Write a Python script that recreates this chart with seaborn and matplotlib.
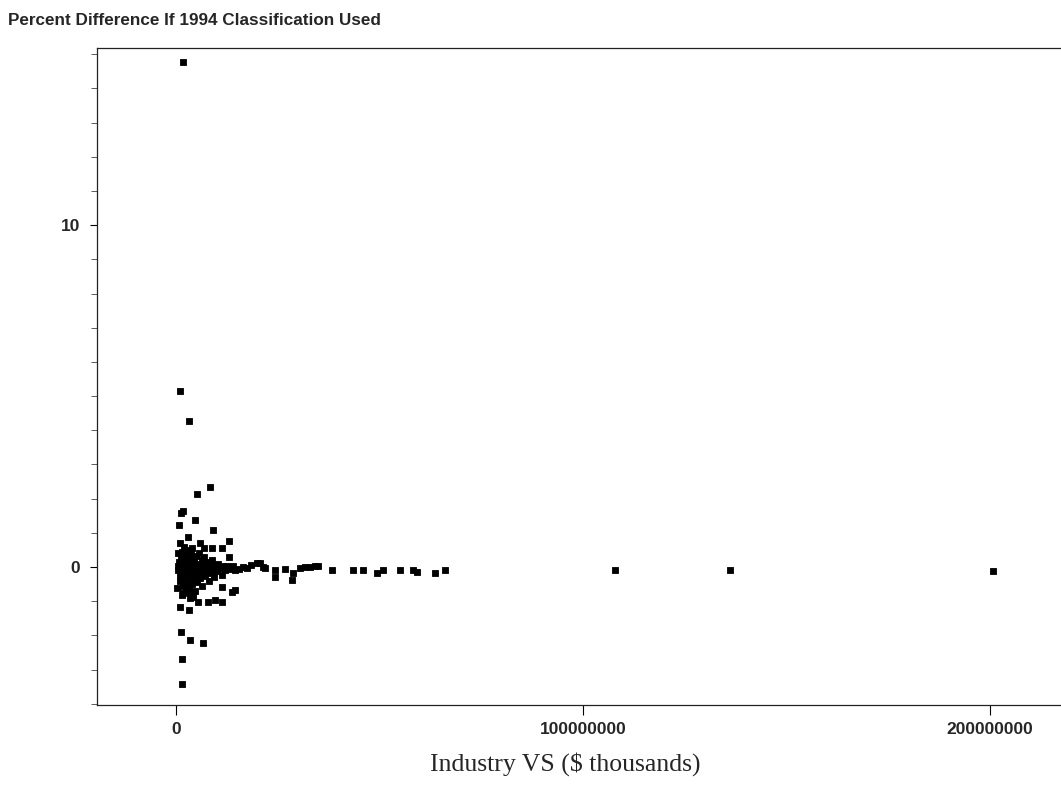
import matplotlib
matplotlib.use("Agg")
import matplotlib.pyplot as plt
import seaborn as sns
import pandas as pd
import numpy as np

# Industry VS in millions of $ thousands (scaled by 1e6 below), percent difference
outlier_vs = [1.7, 1.0, 3.2, 8.3, 5.2, 1.7, 1.2, 0.8, 4.7, 9.1, 2.9, 13.1,
              4.0, 7.0, 8.9, 11.3, 13.0]
outlier_pct = [14.77, 5.15, 4.27, 2.34, 2.13, 1.65, 1.57, 1.23, 1.37, 1.08, 0.88, 0.76,
               0.55, 0.55, 0.57, 0.57, 0.29]

tail_vs = [14.0, 14.5, 15.5, 16.5, 17.5, 18.5, 19.9, 20.6, 21.4, 21.9, 24.3, 24.3,
           26.8, 28.5, 28.7, 30.5, 31.7, 32.9, 34.2, 34.9, 38.3, 43.5, 45.9, 49.4,
           50.9, 55.0, 58.2, 59.2, 63.6, 66.1, 107.9, 136.1, 200.7]
tail_pct = [0.02, -0.10, -0.05, 0.00, -0.03, 0.05, 0.12, 0.12, 0.00, -0.03, -0.09, -0.29,
            -0.06, -0.38, -0.18, -0.03, 0.00, -0.01, 0.03, 0.02, -0.09, -0.09, -0.09, -0.18,
            -0.09, -0.09, -0.09, -0.15, -0.18, -0.09, -0.09, -0.09, -0.12]

low_vs = [14.5, 13.8, 11.3, 11.3, 9.6, 7.9, 5.4, 3.4, 4.1, 1.5, 1.7, 1.0,
          3.2, 1.2, 3.4, 6.6, 1.5, 1.5]
low_pct = [-0.67, -0.73, -0.58, -1.02, -0.96, -1.02, -1.02, -0.91, -0.88, -0.82, -0.76, -1.17,
           -1.26, -1.90, -2.13, -2.22, -2.69, -3.42]

core_vs = [0.4, 0.6, 0.7, 0.9, 1.0, 1.1, 1.2, 1.3, 1.4, 1.5,
           1.6, 1.7, 1.8, 1.9, 2.0, 2.1, 2.2, 2.3, 2.4, 2.5,
           2.6, 2.7, 2.8, 2.9, 3.0, 3.1, 3.2, 3.3, 3.4, 3.5,
           3.6, 3.7, 3.8, 3.9, 4.0, 4.1, 4.2, 4.3, 4.5, 4.6,
           4.7, 4.9, 5.0, 5.1, 5.3, 5.5, 5.6, 5.8, 6.0, 6.1,
           6.3, 6.5, 6.7, 6.9, 7.1, 7.3, 7.6, 7.8, 8.0, 8.3,
           8.5, 8.8, 9.0, 9.3, 9.6, 10.0, 10.4, 10.8, 11.2, 11.6,
           12.0, 12.5, 13.0, 13.5, 2.0, 1.0, 6.0, 3.5, 2.5, 0.3, 0.6]
core_pct = [0.02, -0.10, 0.15, -0.25, 0.05, -0.40, 0.30, -0.05, 0.10, -0.20,
            0.45, -0.55, 0.00, 0.22, -0.12, -0.35, 0.08, 0.35, -0.28, 0.02,
            -0.45, 0.18, -0.08, 0.50, -0.18, 0.05, -0.60, 0.28, -0.02, -0.38,
            0.12, 0.40, -0.15, -0.50, 0.06, 0.25, -0.30, -0.06, 0.16, -0.70,
            0.00, 0.33, -0.22, -0.45, 0.10, -0.05, 0.42, -0.32, 0.04, -0.15,
            0.20, -0.55, -0.02, 0.30, -0.25, 0.08, -0.10, 0.15, -0.40, 0.00,
            -0.18, 0.22, -0.05, -0.30, 0.05, -0.12, 0.10, -0.02, -0.22, 0.03,
            -0.08, 0.02, -0.05, 0.00, 0.60, 0.70, 0.70, -0.75, -0.70, -0.60, 0.40]

df = pd.DataFrame({
    "vs": np.array(outlier_vs + tail_vs + low_vs + core_vs) * 1e6,
    "pct": outlier_pct + tail_pct + low_pct + core_pct,
})

sns.set_theme(style="ticks")
plt.rcParams["font.family"] = ["Liberation Sans", "DejaVu Sans"]

fig = plt.figure(figsize=(10.61, 7.9), dpi=100)
ax = fig.add_axes([0.0914, 0.1076, 0.9086, 0.8315])

sns.scatterplot(data=df, x="vs", y="pct", ax=ax, marker="s", s=15,
                color="black", edgecolor="black", linewidth=0.6)

ax.set_xlim(-19.4e6, 217.4e6)
ax.set_ylim(-4.035, 15.18)
ax.set_xticks([0, 100000000, 200000000])
ax.set_xticklabels(["0", "100000000", "200000000"])
ax.set_yticks([0, 10])
ax.set_yticks(range(-4, 16), minor=True)
ax.tick_params(axis="x", which="major", length=7, width=0.8, color="black",
               labelsize=12.5, pad=5)
ax.tick_params(axis="y", which="major", length=5, width=0.8, color="black",
               labelsize=12.5, pad=7)
ax.tick_params(axis="y", which="minor", length=4, width=0.6, color="#444444")
for lbl in ax.get_xticklabels() + ax.get_yticklabels():
    lbl.set_fontweight("bold")

for side in ["left", "bottom", "top"]:
    ax.spines[side].set_color("#222222")
    ax.spines[side].set_linewidth(0.9)
ax.spines["right"].set_visible(False)

ax.set_ylabel("")
ax.set_xlabel("Industry VS ($ thousands)", family=["Liberation Serif", "DejaVu Serif"],
              fontsize=18.5)
ax.xaxis.set_label_coords(0.4855, -0.072)

fig.text(0.008, 0.974, "Percent Difference If 1994 Classification Used",
         fontsize=12.3, fontweight="bold", ha="left", va="center")

fig.savefig("out.png", dpi=100)
plt.close()
